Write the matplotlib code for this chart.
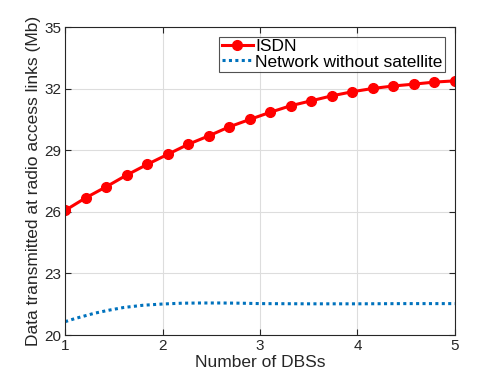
import numpy as np
import matplotlib
matplotlib.use("Agg")
import matplotlib.pyplot as plt

plt.rcParams['font.family'] = ['Liberation Sans', 'DejaVu Sans']

# number of DBSs (x) and data transmitted (Mb)
dbs_isdn = np.linspace(1, 5, 20)
isdn = [26.07, 26.68, 27.22, 27.79, 28.31, 28.80, 29.29, 29.70, 30.14, 30.50,
        30.85, 31.17, 31.41, 31.65, 31.85, 32.01, 32.13, 32.22, 32.32, 32.38]

dbs_nosat = [1.0, 1.1, 1.2, 1.3, 1.45, 1.6, 1.8, 2.0, 2.2, 2.4, 2.6, 2.8, 3.0,
             3.5, 4.0, 4.5, 5.0]
nosat = [20.65, 20.80, 20.93, 21.06, 21.21, 21.34, 21.45, 21.51, 21.55, 21.56,
         21.56, 21.55, 21.53, 21.52, 21.52, 21.53, 21.53]

fig = plt.figure(figsize=(5.01, 3.76), dpi=100)
ax = fig.add_axes([0.130, 0.109, 0.778, 0.819])

ax.plot(dbs_isdn, isdn, color='#ff0000', lw=2.2, marker='o', ms=7, label='ISDN')
ax.plot(dbs_nosat, nosat, color='#0072bd', lw=2.2, ls=(0, (1, 1.1)),
        label='Network without satellite')

ax.set_xlim(1, 5)
ax.set_ylim(20, 35)
ax.set_xticks([1, 2, 3, 4, 5])
ax.set_yticks([20, 23, 26, 29, 32, 35])
ax.grid(True, color='#dddddd', lw=0.8)
ax.set_axisbelow(True)
ax.tick_params(direction='in', top=True, right=True, labelsize=11,
               colors='#262626', length=4, width=0.8, pad=3)
for s in ax.spines.values():
    s.set_color('#262626')
    s.set_linewidth(0.8)

ax.set_xlabel('Number of DBSs', fontsize=12.5, color='#262626', labelpad=1)
ax.set_ylabel('Data transmitted at radio access links (Mb)', fontsize=12.5,
              color='#262626', labelpad=2)

leg = ax.legend(loc='upper right', fontsize=12.5, frameon=True, fancybox=False,
                borderpad=0.15, labelspacing=0.0, handlelength=1.8,
                handletextpad=0.15, borderaxespad=0.55)
leg.get_frame().set_edgecolor('#262626')
leg.get_frame().set_linewidth(0.8)

fig.savefig('out.png', dpi=100)
